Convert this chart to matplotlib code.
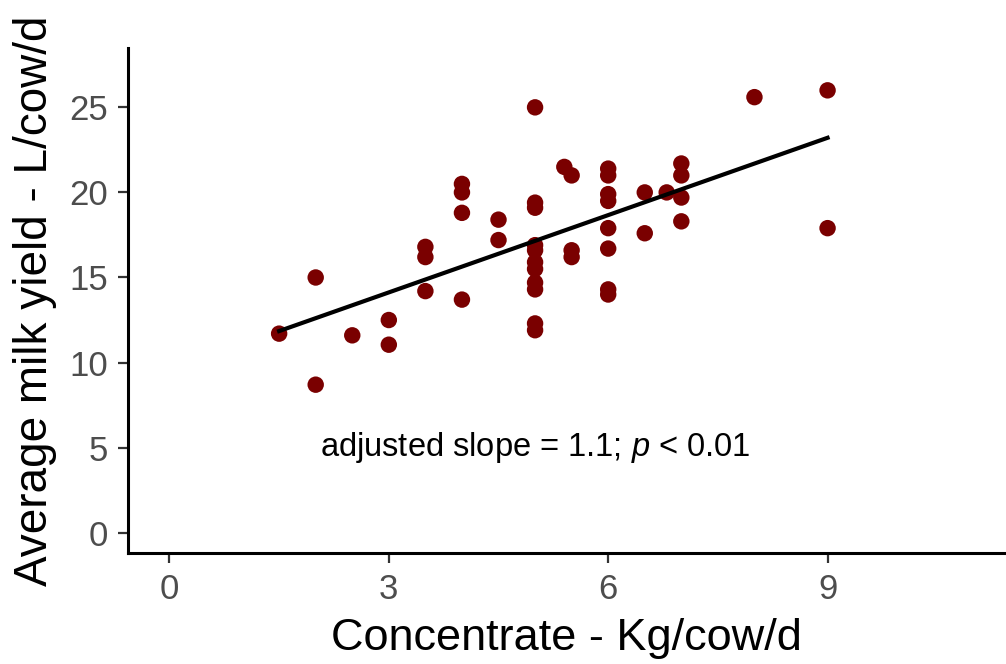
import numpy as np
import matplotlib
matplotlib.use("Agg")
import matplotlib.pyplot as plt

plt.rcParams['font.family'] = ['Liberation Sans', 'DejaVu Sans']
plt.rcParams['mathtext.fontset'] = 'custom'
plt.rcParams['mathtext.it'] = 'Liberation Sans:italic'
plt.rcParams['mathtext.rm'] = 'Liberation Sans'

# Concentrate (kg/cow/d) vs average milk yield (L/cow/d)
concentrate = [1.5, 2, 2, 2.5, 3, 3,
               3.5, 3.5, 3.5, 4, 4, 4, 4,
               4.5, 4.5,
               5, 5, 5, 5, 5, 5, 5, 5, 5, 5, 5,
               5.4, 5.5, 5.5, 5.5,
               6, 6, 6, 6, 6, 6, 6, 6,
               6.5, 6.5, 6.8,
               7, 7, 7, 7,
               8, 9, 9]
milk_yield = [11.7, 15.0, 8.7, 11.6, 12.5, 11.05,
              16.8, 16.2, 14.2, 20.5, 20.0, 18.8, 13.7,
              18.4, 17.2,
              25.0, 19.4, 19.1, 16.9, 16.6, 15.9, 15.5, 14.7, 14.3, 12.3, 11.9,
              21.5, 21.0, 16.6, 16.2,
              21.4, 21.0, 19.9, 19.5, 17.9, 16.7, 14.3, 14.0,
              20.0, 17.6, 20.0,
              21.7, 21.0, 19.7, 18.3,
              25.6, 26.0, 17.9]

x_ticks = [0, 3, 6, 9]
y_ticks = [0, 5, 10, 15, 20, 25]

x = np.array(concentrate)
y = np.array(milk_yield)
# least-squares line over the observed range
slope, intercept = np.polyfit(x, y, 1)
fit_x = np.array([x.min(), x.max()])
fit_y = intercept + slope * fit_x

fig = plt.figure(figsize=(10.06, 6.64), dpi=100)
ax = fig.add_axes([0.127, 0.167, 0.873, 0.761])

ax.scatter(x, y, s=140, color='#7a0000', edgecolors='none', zorder=2)
ax.plot(fit_x, fit_y, color='black', lw=3.0, zorder=3)

ax.text(5.0, 5.0, r"adjusted slope = 1.1; $\it{p}$ < 0.01", fontsize=23.5,
        ha='center', va='center', color='black')

ax.set_xlim(-0.57, 11.44)
ax.set_ylim(-1.2, 28.5)
ax.set_xticks(x_ticks)
ax.set_yticks(y_ticks)

for side in ['top', 'right']:
    ax.spines[side].set_visible(False)
for side in ['left', 'bottom']:
    ax.spines[side].set_linewidth(2.2)
ax.tick_params(axis='both', length=7, width=1.6, color='#333333',
               labelsize=25, labelcolor='#4d4d4d', pad=7)

ax.set_xlabel("Concentrate - Kg/cow/d", fontsize=32.5, labelpad=9)
ax.set_ylabel("Average milk yield - L/cow/d", fontsize=33, labelpad=9)

fig.savefig("out.png", dpi=100)
